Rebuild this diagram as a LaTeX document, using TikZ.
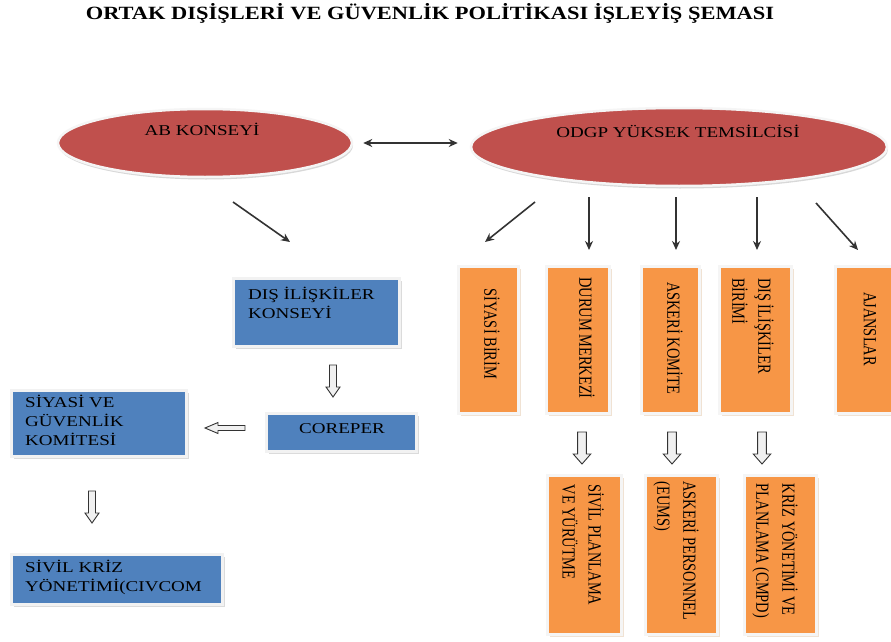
\documentclass[tikz,border=0pt]{standalone}
\usepackage{fontspec}
\setmainfont{Liberation Serif}
\newfontfamily\hfont[FakeStretch=1.27]{Liberation Serif}
\newfontfamily\vfont[FakeStretch=0.78]{Liberation Serif}
\newfontfamily\tfont[FakeStretch=1.2]{Liberation Serif}
\usetikzlibrary{shapes.geometric,shadows,arrows.meta}
\definecolor{odred}{HTML}{C0504D}
\definecolor{odorange}{HTML}{F79646}
\definecolor{odblue}{HTML}{4F81BD}

\begin{document}
\begin{tikzpicture}[x=1pt,y=-1pt]
  % overall canvas
  \useasboundingbox (0,0) rectangle (891,642);

  % styles
  \tikzset{
    oval/.style={ellipse,fill=odred,draw=gray!8,line width=2.5pt,inner sep=0pt,
      drop shadow={shadow xshift=1pt,shadow yshift=-2.5pt,fill=gray!60}},
    bbox/.style={rectangle,fill=odblue,draw=gray!10,line width=3pt,inner sep=0pt,
      drop shadow={shadow xshift=2pt,shadow yshift=-2pt,fill=gray!55}},
    obox/.style={rectangle,fill=odorange,draw=gray!8,line width=3pt,inner sep=0pt,
      minimum height=147pt,
      drop shadow={shadow xshift=2pt,shadow yshift=-2pt,fill=brown!45}},
    htxt/.style={font=\hfont\fontsize{15}{19}\selectfont,inner sep=0pt,align=left},
    vtxt/.style={font=\vfont\fontsize{18.5}{26}\selectfont,inner sep=0pt,align=left,rotate=-90},
    arr/.style={draw=black!80,line width=1.6pt,-{Stealth[length=9pt,width=8pt]}},
    dbl/.style={draw=black!80,line width=1.5pt,{Stealth[length=9pt,width=8pt]}-{Stealth[length=9pt,width=8pt]}},
    hollow/.style={draw=gray!40!black,fill=gray!12,line width=0.9pt,line join=miter},
    hdown/.pic={\path[hollow] (-3.5,0) -- (-3.5,22) -- (-7,22) -- (0,32) -- (7,22) -- (3.5,22) -- (3.5,0) -- cycle;},
    hleft/.pic={\path[hollow] (0,-2.5) -- (-27,-2.5) -- (-27,-5.5) -- (-40,0) -- (-27,5.5) -- (-27,2.5) -- (0,2.5) -- cycle;},
  }

  % white background
  \fill[white] (0,0) rectangle (891,642);

  % title
  \node[font=\tfont\bfseries\fontsize{18.7}{22}\selectfont,anchor=base,inner sep=0pt] (title) at (430,20)
    {ORTAK DIŞİŞLERİ VE GÜVENLİK POLİTİKASI İŞLEYİŞ ŞEMASI};

  % --- top ovals ---
  \node[oval,minimum width=294pt,minimum height=68pt] (ab) at (205,143) {};
  \node[oval,minimum width=416pt,minimum height=78pt] (odgp) at (679,147) {};
  \node[htxt,anchor=base] (ab-t) at (202,135) {AB KONSEYİ};
  \node[htxt,anchor=base] (odgp-t) at (678,137) {ODGP YÜKSEK TEMSİLCİSİ};

  \draw[dbl,shorten <=10pt,shorten >=12pt] (ab.east) -- (ab.east -| odgp.west);

  % --- left column (blue) ---
  \node[bbox,minimum width=166pt,minimum height=68pt] (dik) at (316.5,312.5) {};
  \node[bbox,minimum width=150pt,minimum height=38pt] (cor) at (341.5,432.5) {};
  \node[bbox,minimum width=175pt,minimum height=66pt] (pgk) at (99,423.5) {};
  \node[bbox,minimum width=211pt,minimum height=50pt] (civ) at (117,579.5) {};

  \node[htxt,anchor=north west] (dik-t) at (248,287) {DIŞ İLİŞKİLER\\KONSEYİ};
  \node[htxt,anchor=base] (cor-t) at (342,433) {COREPER};
  \node[htxt,anchor=north west] (pgk-t) at (25,395) {SİYASİ VE\\GÜVENLİK\\KOMİTESİ};
  \node[htxt,anchor=north west] (civ-t) at (25,560) {SİVİL KRİZ\\YÖNETİMİ(CIVCOM};

  % hollow arrows, left side
  \pic at (333,365) {hdown};
  \pic at (245,428) {hleft};
  \pic at (92,491) {hdown};

  % --- right row (orange) ---
  \node[obox,minimum width=60pt] (sb) at (488.5,340) {};
  \node[obox,minimum width=63pt] (dm) at (578,340) {};
  \node[obox,minimum width=58pt] (ak) at (670.5,340) {};
  \node[obox,minimum width=72pt] (dib) at (755.5,340) {};
  \node[obox,minimum width=71pt] (aj) at (871,340) {};

  \node[vtxt] (sb-t) at (492,334) {SİYASİ BİRİM};
  \node[vtxt] (dm-t) at (587,338) {DURUM MERKEZİ};
  \node[vtxt] (ak-t) at (675,338) {ASKERİ KOMİTE};
  \node[vtxt] (dib-t) at (753,326) {DIŞ İLİŞKİLER\\BİRİMİ};
  \node[vtxt] (aj-t) at (870,329) {AJANSLAR};

  % arrows out of the oval
  \coordinate (ab-o) at (233,202);   \coordinate (dik-i) at (290,242);
  \coordinate (od-o1) at (535,202);  \coordinate (sb-i) at (485,242);
  \coordinate (od-o2) at (589,197);  \coordinate (dm-i) at (589,250);
  \coordinate (od-o3) at (676,197);  \coordinate (ak-i) at (676,250);
  \coordinate (od-o4) at (757,197);  \coordinate (dib-i) at (757,250);
  \coordinate (od-o5) at (816,203);  \coordinate (aj-i) at (858,250);

  \draw[arr] (ab-o) -- (dik-i);
  \draw[arr] (od-o1) -- (sb-i);
  \draw[arr] (od-o2) -- (dm-i);
  \draw[arr] (od-o3) -- (ak-i);
  \draw[arr] (od-o4) -- (dib-i);
  \draw[arr] (od-o5) -- (aj-i);

  % --- lower row (orange) ---
  \node[obox,minimum width=74pt,minimum height=159pt] (spy) at (584.5,555) {};
  \node[obox,minimum width=72pt,minimum height=159pt] (ap) at (681.5,555) {};
  \node[obox,minimum width=72pt,minimum height=159pt] (kyp) at (780.5,555) {};

  \node[vtxt] (spy-t) at (583,545) {SİVİL PLANLAMA\\VE YÜRÜTME};
  \node[vtxt] (ap-t) at (676,551) {ASKERİ PERSONNEL\\(EUMS)};
  \node[vtxt] (kyp-t) at (775,551) {KRİZ YÖNETİMİ VE\\PLANLAMA (CMPD)};

  \pic[xscale=1.25] at (582,432) {hdown};
  \pic[xscale=1.25] at (672,432) {hdown};
  \pic[xscale=1.25] at (762,432) {hdown};
\end{tikzpicture}
\end{document}
